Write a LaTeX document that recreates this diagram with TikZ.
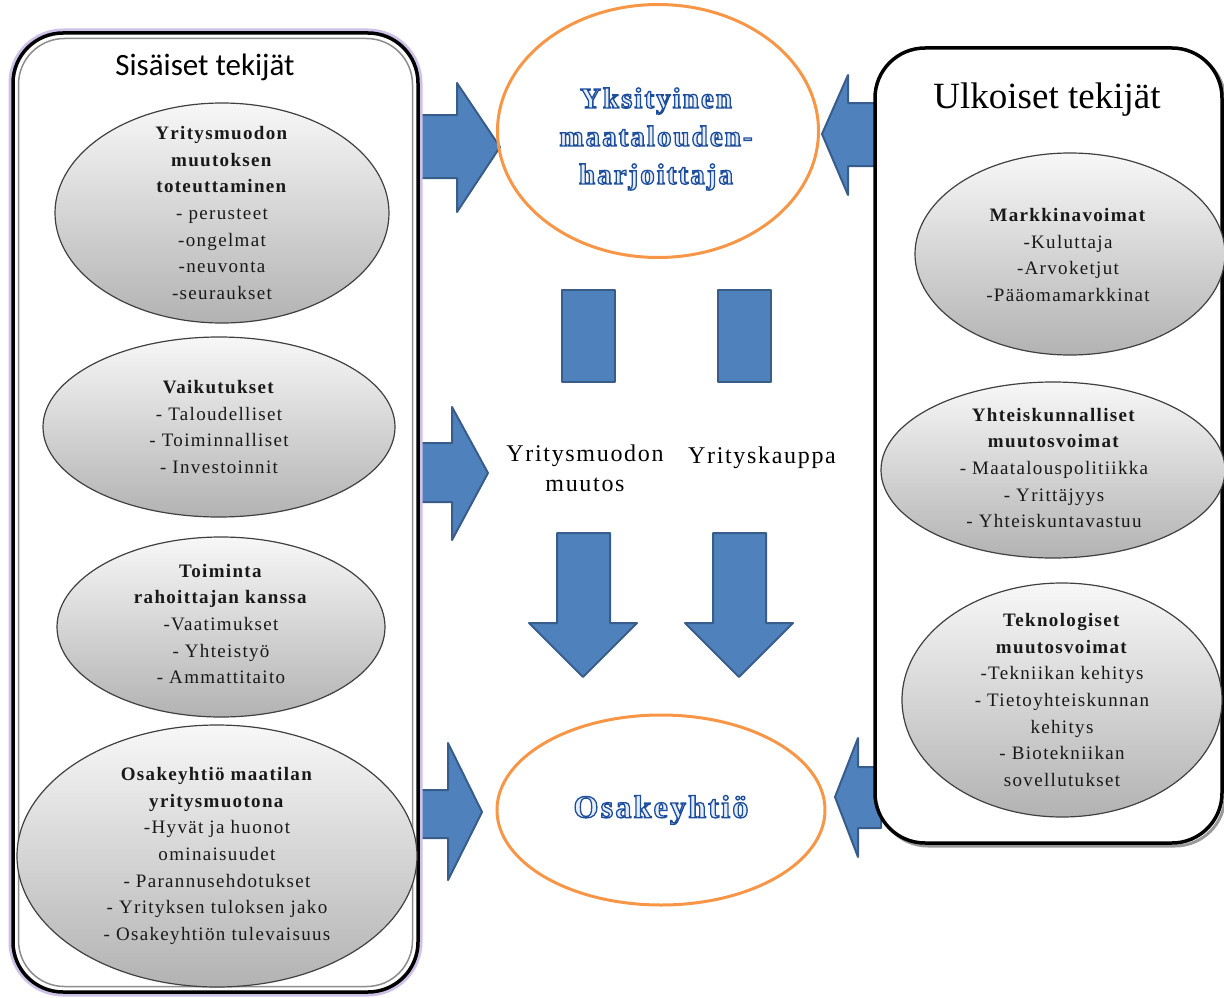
\documentclass[tikz,border=0pt]{standalone}
\usepackage{fontspec}
\setmainfont{Liberation Serif}
\newfontfamily\titlefont{Carlito}
\newfontfamily\spacedfont[LetterSpace=7]{Liberation Serif}
\usetikzlibrary{shapes.geometric, positioning}
\definecolor{arrowblue}{RGB}{79,129,189}
\definecolor{arrowedge}{RGB}{56,93,138}
\definecolor{ringorange}{RGB}{247,150,70}
\definecolor{headblue}{RGB}{30,78,155}
\definecolor{glowviolet}{RGB}{205,193,232}
\newcommand{\hollow}{\special{pdf:literal direct 2 Tr 1.3 w 0.9 0.93 0.99 rg}}

\begin{document}
\begin{tikzpicture}[x=1pt, y=-1pt,
  panel/.style={draw=black, line width=3.5pt, rounded corners=50pt, fill=white},
  factor/.style={ellipse, draw=black!75, line width=1.2pt, top color=black!3, bottom color=black!30, inner sep=0pt},
  factortext/.style={font=\spacedfont\fontsize{19}{26.7}\selectfont, align=center, text=black!90},
  goal/.style={ellipse, draw=ringorange, line width=3pt, inner sep=0pt},
  goaltext/.style={font=\spacedfont\bfseries\fontsize{29}{38}\selectfont, align=center, text=headblue},
  midtext/.style={font=\spacedfont\fontsize{24}{30}\selectfont, align=center},
  block/.style={fill=arrowblue, draw=arrowedge, line width=2pt, line join=round}]
  \useasboundingbox (0,0) rectangle (1224,998);

  % arrows from the panels
  \draw[block] (414,115) -- (457,115) -- (457,83) -- (500,147) -- (457,212) -- (457,178) -- (414,178) -- cycle;
  \draw[block] (414,443) -- (452,443) -- (452,407) -- (488,473) -- (452,540) -- (452,502) -- (414,502) -- cycle;
  \draw[block] (414,790) -- (448,790) -- (448,743) -- (482,812) -- (448,880) -- (448,838) -- (414,838) -- cycle;
  \draw[block] (879,103) -- (848,103) -- (848,75) -- (822,134) -- (848,195) -- (848,166) -- (879,166) -- cycle;
  \draw[block] (881,767) -- (858,767) -- (858,738) -- (835,797) -- (858,857) -- (858,828) -- (881,828) -- cycle;

  % left panel
  \draw[glowviolet, line width=9pt, rounded corners=50pt] (13,33) rectangle (418,992);
  \draw[panel] (13,33) rectangle (418,992);
  \draw[black!45, line width=1.5pt, rounded corners=46pt] (18.5,38.5) rectangle (412.5,986.5);
  \node (inner) at (205,75) [anchor=base, font=\titlefont\fontsize{31}{36}\selectfont] {Sisäiset tekijät};

  \node (impl) at (222,213) [factor, minimum width=334pt, minimum height=220pt] {};
  \node (impltext) at (impl) [factortext] {\textbf{Yritysmuodon}\\\textbf{muutoksen}\\\textbf{toteuttaminen}\\- perusteet\\-ongelmat\\-neuvonta\\-seuraukset};
  \node (effects) at (219,427) [factor, minimum width=352pt, minimum height=180pt] {};
  \node (effectstext) at (effects) [factortext] {\textbf{Vaikutukset}\\- Taloudelliset\\- Toiminnalliset\\- Investoinnit};
  \node (finance) at (221,627) [factor, minimum width=328pt, minimum height=180pt] {};
  \node (financetext) at (221,624) [factortext] {\textbf{Toiminta}\\\textbf{rahoittajan kanssa}\\-Vaatimukset\\- Yhteistyö\\- Ammattitaito};
  \node (form) at (217,856) [factor, minimum width=400pt, minimum height=262pt] {};
  \node (formtext) at (form) [factortext] {\textbf{Osakeyhtiö maatilan}\\\textbf{yritysmuotona}\\-Hyvät ja huonot\\ominaisuudet\\- Parannusehdotukset\\- Yrityksen tuloksen jako\\- Osakeyhtiön tulevaisuus};

  % right panel
  \draw[black!40, line width=3pt, rounded corners=50pt] (878,51) rectangle (1225,846);
  \draw[panel] (875,48) rectangle (1222,843);
  \node (outer) at (1047,108) [anchor=base, font=\fontsize{37}{42}\selectfont] {Ulkoiset tekijät};

  \node (market) at (1070,254) [factor, minimum width=310pt, minimum height=202pt] {};
  \node (markettext) at (1068,255) [factortext] {\textbf{Markkinavoimat}\\-Kuluttaja\\-Arvoketjut\\-Pääomamarkkinat};
  \node (society) at (1053,470) [factor, minimum width=344pt, minimum height=176pt] {};
  \node (societytext) at (1054,468) [factortext] {\textbf{Yhteiskunnalliset}\\\textbf{muutosvoimat}\\- Maatalouspolitiikka\\- Yrittäjyys\\- Yhteiskuntavastuu};
  \node (tech) at (1062,700) [factor, minimum width=320pt, minimum height=234pt] {};
  \node (techtext) at (tech) [factortext] {\textbf{Teknologiset}\\\textbf{muutosvoimat}\\-Tekniikan kehitys\\- Tietoyhteiskunnan\\kehitys\\- Biotekniikan\\sovellutukset};

  % middle
  \node (farmer) at (658,131) [goal, minimum width=321pt, minimum height=253pt] {};
  \node (farmertext) at (656,139) [goaltext] {\hollow Yksityinen\\maatalouden-\\harjoittaja};
  \node (company) at (661,810) [goal, minimum width=328pt, minimum height=190pt] {};
  \node (companytext) at (company) [goaltext, font=\spacedfont\bfseries\fontsize{32}{38}\selectfont] {\hollow Osakeyhtiö};

  \draw[block] (562,290) rectangle (615,382);
  \draw[block] (718,290) rectangle (771,382);
  \node (formchange) at (585,468) [midtext] {Yritysmuodon\\muutos};
  \node (acquisition) at (762,458) [midtext] {Yrityskauppa};
  \draw[block] (557,533) -- (610,533) -- (610,623) -- (637,623) -- (583,677) -- (529,623) -- (557,623) -- cycle;
  \draw[block] (713,533) -- (766,533) -- (766,623) -- (793,623) -- (739,677) -- (685,623) -- (713,623) -- cycle;
\end{tikzpicture}
\end{document}
